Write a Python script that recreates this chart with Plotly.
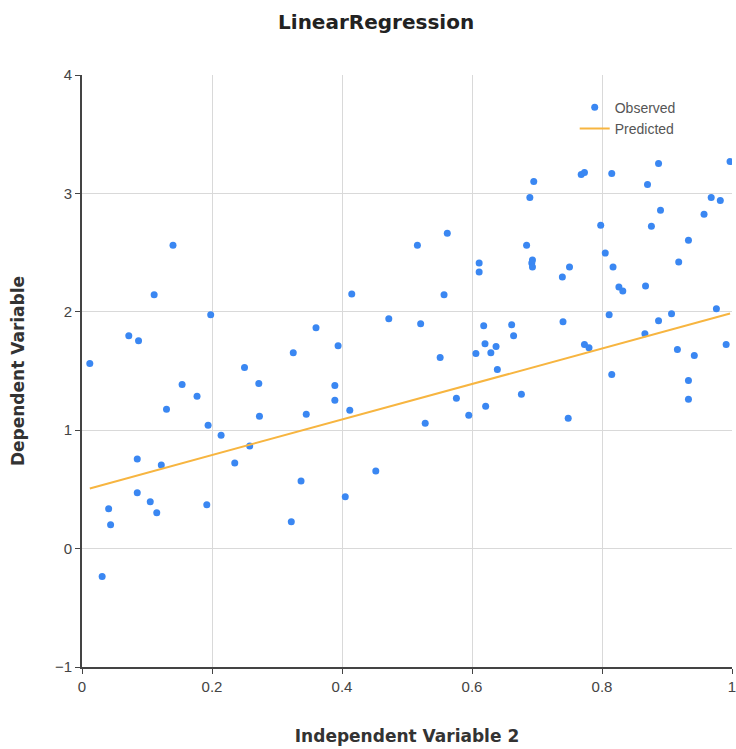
import plotly.graph_objects as go

# Observed samples: independent variable 2 vs dependent variable
obs_x = [0.012, 0.031, 0.041, 0.044, 0.072, 0.087, 0.085, 0.085, 0.105, 0.111,
         0.115, 0.122, 0.130, 0.140, 0.154, 0.177, 0.194, 0.192, 0.198, 0.214,
         0.235, 0.250, 0.258, 0.272, 0.273, 0.322, 0.325, 0.337, 0.345, 0.360,
         0.389, 0.389, 0.394, 0.405, 0.412, 0.415, 0.452, 0.472, 0.516, 0.521,
         0.528, 0.551, 0.557, 0.562, 0.576, 0.595, 0.606, 0.611, 0.611, 0.618,
         0.621, 0.620, 0.629, 0.637, 0.639, 0.661, 0.664, 0.676, 0.684, 0.689,
         0.695, 0.693, 0.692, 0.693, 0.739, 0.740, 0.750, 0.748, 0.768, 0.773,
         0.773, 0.780, 0.798, 0.805, 0.811, 0.815, 0.815, 0.817, 0.826, 0.832,
         0.866, 0.867, 0.870, 0.876, 0.887, 0.887, 0.890, 0.907, 0.916, 0.918,
         0.933, 0.933, 0.933, 0.942, 0.957, 0.968, 0.976, 0.982, 0.991, 0.997]
obs_y = [1.563, -0.235, 0.336, 0.202, 1.798, 1.756, 0.756, 0.471, 0.395, 2.143,
         0.303, 0.706, 1.176, 2.563, 1.387, 1.286, 1.042, 0.370, 1.975, 0.958,
         0.723, 1.529, 0.866, 1.395, 1.118, 0.227, 1.655, 0.571, 1.134, 1.866,
         1.252, 1.378, 1.714, 0.437, 1.168, 2.151, 0.655, 1.941, 2.563, 1.899,
         1.059, 1.613, 2.143, 2.664, 1.269, 1.126, 1.647, 2.412, 2.336, 1.882,
         1.202, 1.731, 1.655, 1.706, 1.513, 1.891, 1.798, 1.303, 2.563, 2.966,
         3.101, 2.437, 2.412, 2.378, 2.294, 1.916, 2.378, 1.101, 3.160, 3.176,
         1.723, 1.697, 2.731, 2.496, 1.975, 3.168, 1.471, 2.378, 2.210, 2.176,
         1.815, 2.218, 3.076, 2.723, 3.252, 1.924, 2.857, 1.983, 1.681, 2.420,
         2.605, 1.420, 1.261, 1.630, 2.824, 2.966, 2.025, 2.941, 1.723, 3.269]

# Fitted line coefficients
intercept = 0.49
slope = 1.50

x_ticks = [0, 0.2, 0.4, 0.6, 0.8, 1]
x_tick_text = ["0", "0.2", "0.4", "0.6", "0.8", "1"]
y_ticks = [-1, 0, 1, 2, 3, 4]

pred_x = [min(obs_x), max(obs_x)]
pred_y = [intercept + slope * v for v in pred_x]

fig = go.Figure()
fig.add_trace(go.Scatter(
    x=obs_x, y=obs_y, mode="markers", name="Observed",
    marker=dict(color="#3a87f2", size=7),
))
fig.add_trace(go.Scatter(
    x=pred_x, y=pred_y, mode="lines", name="Predicted",
    line=dict(color="#f7b540", width=2),
))

axis_font = dict(family="Liberation Sans", size=15, color="#444444")
title_font = dict(family="DejaVu Sans", size=17, color="#333333")

fig.update_layout(
    width=736, height=749,
    margin=dict(l=82, r=0, t=75, b=82),
    paper_bgcolor="white", plot_bgcolor="white",
    title=dict(text="<b>LinearRegression</b>", x=0.511, xanchor="center",
               y=0.971, yanchor="middle",
               font=dict(family="DejaVu Sans", size=20, color="#222222")),
    showlegend=True,
    legend=dict(x=0.758, y=0.972, xanchor="left", yanchor="top",
                bgcolor="rgba(0,0,0,0)", tracegroupgap=0,
                font=dict(family="Liberation Sans", size=14, color="#555555")),
    xaxis=dict(range=[0, 1], tickvals=x_ticks, ticktext=x_tick_text,
               showgrid=True, gridcolor="#d9d9d9", gridwidth=1,
               showline=True, linecolor="#444444", linewidth=2,
               ticks="outside", ticklen=5, tickcolor="#444444",
               tickfont=axis_font, zeroline=False,
               ticklabeloverflow="allow",
               title=dict(text="<b>Independent Variable 2</b>", font=title_font,
                          standoff=36)),
    yaxis=dict(range=[-1, 4], tickvals=y_ticks,
               showgrid=True, gridcolor="#d9d9d9", gridwidth=1,
               showline=True, linecolor="#444444", linewidth=2,
               ticks="outside", ticklen=5, tickcolor="#444444",
               tickfont=axis_font, zeroline=False,
               title=dict(text="<b>Dependent Variable</b>", font=title_font,
                          standoff=26)),
)

fig.write_html("out.html")
